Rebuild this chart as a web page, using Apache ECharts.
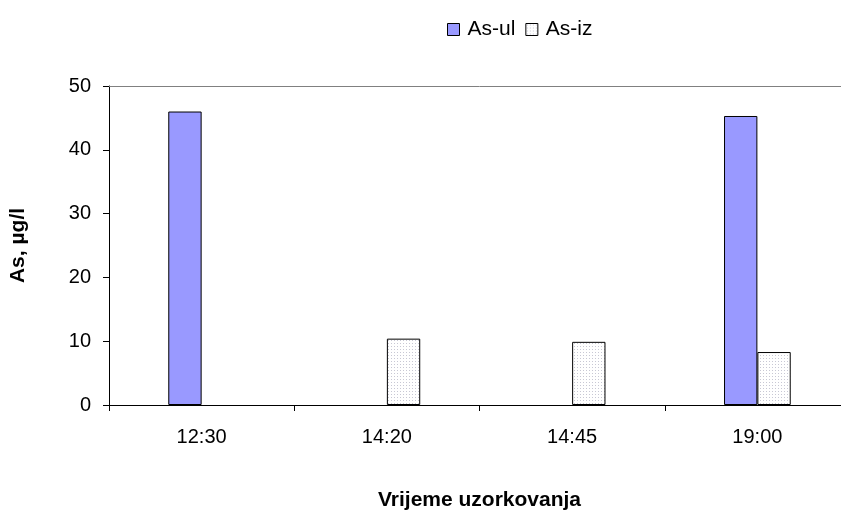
<!DOCTYPE html>
<html>
<head>
<meta charset="utf-8">
<script src="https://cdn.jsdelivr.net/npm/echarts@6/dist/echarts.min.js"></script>
<style>html,body{margin:0;padding:0;background:#fff;overflow:hidden}#c{width:850px;height:516px}</style>
</head>
<body>
<div id="c"></div>
<script>
const categories = ['12:30', '14:20', '14:45', '19:00'];
const asUl = [46.0, null, null, 45.3];
const asIz = [null, 10.4, 9.9, 8.3];
const yTicks = [0, 10, 20, 30, 40, 50];

const pc = document.createElement('canvas');
pc.width = 3; pc.height = 3;
const ctx = pc.getContext('2d');
ctx.fillStyle = '#ffffff'; ctx.fillRect(0, 0, 3, 3);
ctx.fillStyle = '#c8c8d4'; ctx.fillRect(1, 1, 1, 1);
const dotted = { image: pc, repeat: 'repeat' };

const chart = echarts.init(document.getElementById('c'), null, { renderer: 'canvas' });
const font = 'Liberation Sans, Arial, sans-serif';
chart.setOption({
  animation: false,
  backgroundColor: '#fff',
  textStyle: { fontFamily: font },
  legend: {
    left: 442, top: 14,
    itemWidth: 12, itemHeight: 12, itemGap: 10,
    icon: 'rect',
    textStyle: { fontSize: 21, color: '#000', fontFamily: font, padding: [0, 0, 0, 3] },
    data: [
      { name: 'As-ul', itemStyle: { color: '#9999ff', borderColor: '#000', borderWidth: 1 } },
      { name: 'As-iz', itemStyle: { color: dotted, borderColor: '#000', borderWidth: 1 } }
    ]
  },
  grid: { left: 108, right: 0, top: 86, bottom: 106 },
  xAxis: [{
    type: 'category',
    data: categories,
    name: 'Vrijeme uzorkovanja',
    nameLocation: 'middle',
    nameGap: 85,
    nameTextStyle: { fontSize: 21, fontWeight: 'bold', color: '#000', fontFamily: font },
    axisLine: { lineStyle: { color: '#000', width: 1 } },
    axisTick: { show: true, alignWithLabel: false, length: 6, lineStyle: { color: '#000' } },
    axisLabel: { fontSize: 20, color: '#000', margin: 22, fontFamily: font },
    splitLine: { show: false }
  }, {
    type: 'category',
    position: 'top',
    data: categories,
    axisLine: { show: true, lineStyle: { color: '#808080', width: 1 } },
    axisTick: { show: false },
    axisLabel: { show: false },
    splitLine: { show: false }
  }],
  yAxis: {
    type: 'value',
    min: 0, max: 50, interval: 10,
    name: 'As, µg/l',
    nameLocation: 'middle',
    nameGap: 80,
    nameRotate: 90,
    nameTextStyle: { fontSize: 21, fontWeight: 'bold', color: '#000', fontFamily: font },
    axisLine: { show: true, lineStyle: { color: '#000', width: 1 } },
    axisTick: { show: true, length: 6, lineStyle: { color: '#000' } },
    axisLabel: { fontSize: 20, color: '#000', margin: 18, fontFamily: font,
      formatter: v => yTicks.includes(v) ? String(v) : '' },
    splitLine: { show: false }
  },
  series: [
    { name: 'As-ul', type: 'bar', data: asUl, barGap: '0%', barCategoryGap: '64%',
      itemStyle: { color: '#9999ff', borderColor: '#000', borderWidth: 1 } },
    { name: 'As-iz', type: 'bar', data: asIz, barGap: '0%', barCategoryGap: '64%',
      itemStyle: { color: dotted, borderColor: '#000', borderWidth: 1 } }
  ]
});
</script>
</body>
</html>
